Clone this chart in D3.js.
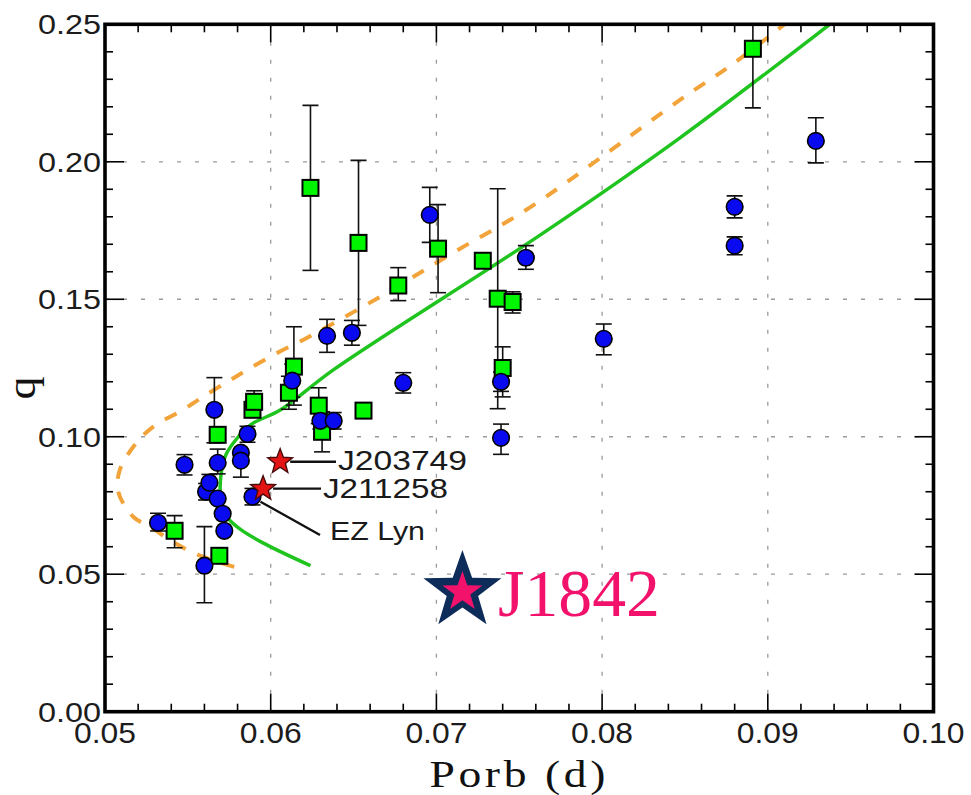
<!DOCTYPE html>
<html>
<head>
<meta charset="utf-8">
<script src="https://cdn.jsdelivr.net/npm/d3@7"></script>
<style>
  body { margin: 0; background: #fff; }
</style>
</head>
<body>
<svg id="chart" width="971" height="795"></svg>
<script>
// Systems with mass ratio from superhumps: [Porb (d), q, lower error, upper error]
const circleSystems = [
  [0.0532, 0.0687, 0.003, 0.0035],
  [0.0548, 0.0898, 0.0037, 0.0037],
  [0.0560, 0.0531, 0.0135, 0.0142],
  [0.0561, 0.0800, 0.003, 0.003],
  [0.0563, 0.0833, 0.003, 0.003],
  [0.0566, 0.1098, 0.012, 0.0117],
  [0.0568, 0.0905, 0.004, 0.005],
  [0.0568, 0.0775, 0, 0],
  [0.0571, 0.0720, 0, 0],
  [0.0572, 0.0658, 0, 0],
  [0.0582, 0.0942, 0, 0],
  [0.0582, 0.0913, 0.006, 0.003],
  [0.0586, 0.1010, 0.003, 0.0028],
  [0.0589, 0.0782, 0.003, 0.003],
  [0.0613, 0.1204, 0.006, 0.006],
  [0.0630, 0.1058, 0.003, 0.003],
  [0.0638, 0.1058, 0.003, 0.003],
  [0.0634, 0.1367, 0.006, 0.006],
  [0.0649, 0.1378, 0.0045, 0.0045],
  [0.0680, 0.1196, 0.0037, 0.0037],
  [0.0696, 0.1807, 0.010, 0.010],
  [0.0739, 0.1200, 0.0035, 0.0035],
  [0.0739, 0.0996, 0.006, 0.005],
  [0.0754, 0.1651, 0.0042, 0.0044],
  [0.0801, 0.1356, 0.0058, 0.0054],
  [0.0880, 0.1836, 0.004, 0.004],
  [0.0880, 0.1695, 0.0033, 0.0032],
  [0.0929, 0.2076, 0.008, 0.0084]
];

// Eclipsing systems: [Porb (d), q, lower error, upper error]
const squareSystems = [
  [0.0542, 0.0658, 0.0062, 0.0055],
  [0.0569, 0.0567, 0, 0],
  [0.0568, 0.1007, 0, 0],
  [0.0589, 0.1098, 0, 0],
  [0.0590, 0.1127, 0, 0.004],
  [0.0611, 0.1160, 0.006, 0.006],
  [0.0614, 0.1255, 0.014, 0.0145],
  [0.0624, 0.1905, 0.030, 0.030],
  [0.0629, 0.1113, 0.0065, 0.0065],
  [0.0631, 0.1018, 0.0073, 0.0073],
  [0.0653, 0.1705, 0.030, 0.030],
  [0.0656, 0.1095, 0, 0],
  [0.0677, 0.1550, 0.0055, 0.0065],
  [0.0701, 0.1684, 0.016, 0.016],
  [0.0728, 0.1640, 0, 0],
  [0.0737, 0.1502, 0.040, 0.040],
  [0.0746, 0.1490, 0.004, 0.0037],
  [0.0740, 0.1250, 0.0105, 0.0077],
  [0.0891, 0.2411, 0.0215, 0.022],
  [0.1005, 0.2500, 0, 0]
];

// Named objects marked with red stars
const starNames = ["J203749", "J211258"];
const starPorb  = [0.06057, 0.05954];
const starQ     = [0.0909, 0.0811];

// EZ Lyn (one of the circle systems) is labelled
const ezLyn = { name: "EZ Lyn", porb: 0.0589, q: 0.0782 };

// Highlighted object
const target = { name: "J1842", porb: 0.07157, q: 0.0439 };

// Evolutionary tracks: [Porb (d), q]
const trackDashed = [
  [0.0578, 0.0527], [0.0559, 0.0564], [0.0544, 0.0607], [0.0527, 0.0673],
  [0.0517, 0.0709], [0.0508, 0.0800], [0.0509, 0.0880], [0.0519, 0.0978],
  [0.0529, 0.1036], [0.0547, 0.1098], [0.0563, 0.1160], [0.0577, 0.1211],
  [0.0588, 0.1251], [0.0604, 0.1305], [0.0622, 0.1360], [0.0666, 0.1509],
  [0.0710, 0.1669], [0.0757, 0.1836], [0.0847, 0.2225], [0.0879, 0.2356],
  [0.0908, 0.2490], [0.0911, 0.2505]
];
const trackSolid = [
  [0.0624, 0.0531], [0.0595, 0.0615], [0.0582, 0.0662], [0.0574, 0.0705],
  [0.0570, 0.0771], [0.0570, 0.0862], [0.0573, 0.0935], [0.0579, 0.0989],
  [0.0588, 0.1044], [0.0606, 0.1098], [0.0638, 0.1244], [0.0763, 0.1735],
  [0.0847, 0.2087], [0.0937, 0.2498], [0.0940, 0.2512]
];

// Axis ticks
const xMajor = [0.05, 0.06, 0.07, 0.08, 0.09, 0.10];
const yMajor = [0.00, 0.05, 0.10, 0.15, 0.20, 0.25];
const xMinor = d3.range(0.052, 0.1, 0.002).filter(v => Math.abs(v * 100 - Math.round(v * 100)) > 1e-6);
const yMinor = d3.range(0.01, 0.25, 0.01).filter(v => Math.abs(v * 20 - Math.round(v * 20)) > 1e-6);

const svg = d3.select("#chart");
const L = 105, R = 933.5, T = 24.3, B = 711.7;

const x = d3.scaleLinear().domain([0.05, 0.10]).range([L, R]);
const y = d3.scaleLinear().domain([0, 0.25]).range([B, T]);

svg.append("defs").append("clipPath").attr("id", "plotClip")
  .append("rect").attr("x", L).attr("y", T).attr("width", R - L).attr("height", B - T);

// Grid lines
const grid = svg.append("g").attr("stroke", "#9a9a9a").attr("stroke-width", 1.3)
  .attr("stroke-dasharray", "4,14");
grid.selectAll(".gx").data(xMajor.slice(1, -1)).join("line")
  .attr("x1", d => x(d)).attr("x2", d => x(d)).attr("y1", B).attr("y2", T);
grid.selectAll(".gy").data(yMajor.slice(1, -1)).join("line")
  .attr("y1", d => y(d)).attr("y2", d => y(d)).attr("x1", L).attr("x2", R);

const plot = svg.append("g").attr("clip-path", "url(#plotClip)");

const line = d3.line().x(d => x(d[0])).y(d => y(d[1])).curve(d3.curveCatmullRom.alpha(0.5));

plot.append("path").datum(trackDashed).attr("d", line)
  .attr("fill", "none").attr("stroke", "#f2a43a").attr("stroke-width", 4)
  .attr("stroke-dasharray", "13,13");
plot.append("path").datum(trackSolid).attr("d", line)
  .attr("fill", "none").attr("stroke", "#1fc41f").attr("stroke-width", 3.5);

// Error bars
function errorBars(data) {
  const g = plot.append("g").attr("stroke", "#111").attr("stroke-width", 1.6);
  data.filter(d => d[2] > 0 || d[3] > 0).forEach(d => {
    const cx = x(d[0]), lo = y(d[1] - d[2]), hi = y(d[1] + d[3]);
    g.append("line").attr("x1", cx).attr("x2", cx).attr("y1", lo).attr("y2", hi);
    g.append("line").attr("x1", cx - 8).attr("x2", cx + 8).attr("y1", lo).attr("y2", lo);
    g.append("line").attr("x1", cx - 8).attr("x2", cx + 8).attr("y1", hi).attr("y2", hi);
  });
}
errorBars(squareSystems);
errorBars(circleSystems);

plot.selectAll(".sq").data(squareSystems).join("rect")
  .attr("x", d => x(d[0]) - 8).attr("y", d => y(d[1]) - 8)
  .attr("width", 16).attr("height", 16)
  .attr("fill", "#00f500").attr("stroke", "#000").attr("stroke-width", 2);

plot.selectAll(".ci").data(circleSystems).join("circle")
  .attr("cx", d => x(d[0])).attr("cy", d => y(d[1])).attr("r", 8.3)
  .attr("fill", "#0a0af0").attr("stroke", "#000").attr("stroke-width", 1.6);

function starPath(cx, cy, ro, ri) {
  const pts = d3.range(10).map(i => {
    const a = -Math.PI / 2 + i * Math.PI / 5;
    const r = i % 2 === 0 ? ro : ri;
    return [cx + r * Math.cos(a), cy + r * Math.sin(a)];
  });
  return "M" + pts.map(p => p.join(",")).join("L") + "Z";
}

// Annotation leader lines
const ann = svg.append("g").attr("stroke", "#111").attr("stroke-width", 2.3);
const labelStart = [338, 323];
starNames.forEach((n, i) => {
  const sx = x(starPorb[i]), sy = y(starQ[i]);
  ann.append("line").attr("x1", sx + 10).attr("x2", labelStart[i] - 2)
    .attr("y1", sy).attr("y2", sy);
});
ann.append("line")
  .attr("x1", x(ezLyn.porb) + 8).attr("y1", y(ezLyn.q) + 5)
  .attr("x2", 320).attr("y2", 535);

starNames.forEach((n, i) => {
  svg.append("path").attr("d", starPath(x(starPorb[i]), y(starQ[i]), 13, 5.5))
    .attr("fill", "#e51414").attr("stroke", "#4a0a0a").attr("stroke-width", 1.4);
});

// Highlighted object
const tx = x(target.porb), ty = y(target.q);
svg.append("path").attr("d", starPath(tx, ty, 41, 16.5)).attr("fill", "#0e2c5a");
svg.append("path").attr("d", starPath(tx, ty + 1, 21, 8.3)).attr("fill", "#f2126c");
svg.append("text").attr("x", 498).attr("y", 616)
  .attr("font-family", "'Liberation Serif', 'Times New Roman', serif").attr("font-size", 68)
  .attr("fill", "#f2126c").attr("textLength", 162).attr("lengthAdjust", "spacingAndGlyphs")
  .text(target.name);

// Annotation labels
const sans = "'Liberation Sans', Arial, sans-serif";
const labelBase = [470, 498];
const labelLen = [129, 125];
starNames.forEach((n, i) => {
  svg.append("text").attr("x", labelStart[i]).attr("y", labelBase[i])
    .attr("font-family", sans).attr("font-size", 28).attr("fill", "#1a1a1a")
    .attr("textLength", labelLen[i]).attr("lengthAdjust", "spacingAndGlyphs").text(n);
});
svg.append("text").attr("x", 330).attr("y", 540)
  .attr("font-family", sans).attr("font-size", 25).attr("fill", "#1a1a1a")
  .attr("textLength", 95).attr("lengthAdjust", "spacingAndGlyphs").text(ezLyn.name);

// Frame
svg.append("rect").attr("x", L).attr("y", T).attr("width", R - L).attr("height", B - T)
  .attr("fill", "none").attr("stroke", "#000").attr("stroke-width", 3.6);

// Ticks on all four sides, pointing inward
const ticks = svg.append("g").attr("stroke", "#000").attr("stroke-width", 1.6);
function xTickMarks(vals, len) {
  vals.forEach(v => {
    ticks.append("line").attr("x1", x(v)).attr("x2", x(v)).attr("y1", B).attr("y2", B - len);
    ticks.append("line").attr("x1", x(v)).attr("x2", x(v)).attr("y1", T).attr("y2", T + len);
  });
}
function yTickMarks(vals, len) {
  vals.forEach(v => {
    ticks.append("line").attr("y1", y(v)).attr("y2", y(v)).attr("x1", L).attr("x2", L + len);
    ticks.append("line").attr("y1", y(v)).attr("y2", y(v)).attr("x1", R).attr("x2", R - len);
  });
}
xTickMarks(xMinor, 8);
xTickMarks(xMajor.slice(1, -1), 18);
yTickMarks(yMinor, 8);
yTickMarks(yMajor.slice(1, -1), 19);

const fmt = d3.format(".2f");
svg.selectAll(".yl").data(yMajor).join("text")
  .attr("x", 101).attr("y", d => y(d) + 10).attr("text-anchor", "end")
  .attr("font-family", sans).attr("font-size", 28).attr("fill", "#1c1c1c")
  .attr("textLength", 63).attr("lengthAdjust", "spacingAndGlyphs").text(fmt);
svg.selectAll(".xl").data(xMajor).join("text")
  .attr("x", d => x(d)).attr("y", 743).attr("text-anchor", "middle")
  .attr("font-family", sans).attr("font-size", 29).attr("fill", "#1c1c1c")
  .attr("textLength", 62).attr("lengthAdjust", "spacingAndGlyphs").text(fmt);

// Axis titles
const serif = "'Liberation Serif', 'Times New Roman', serif";
svg.append("text").attr("transform", `translate(${(L + R) / 2},787) scale(1.2,1)`)
  .attr("text-anchor", "middle")
  .attr("font-family", serif).attr("font-size", 38).attr("fill", "#111")
  .attr("letter-spacing", 3).text("Porb (d)");
svg.append("text").attr("transform", "translate(35,388) rotate(-90) scale(1.15,1)")
  .attr("text-anchor", "middle")
  .attr("font-family", serif).attr("font-size", 40).attr("fill", "#111").text("q");
</script>
</body>
</html>
